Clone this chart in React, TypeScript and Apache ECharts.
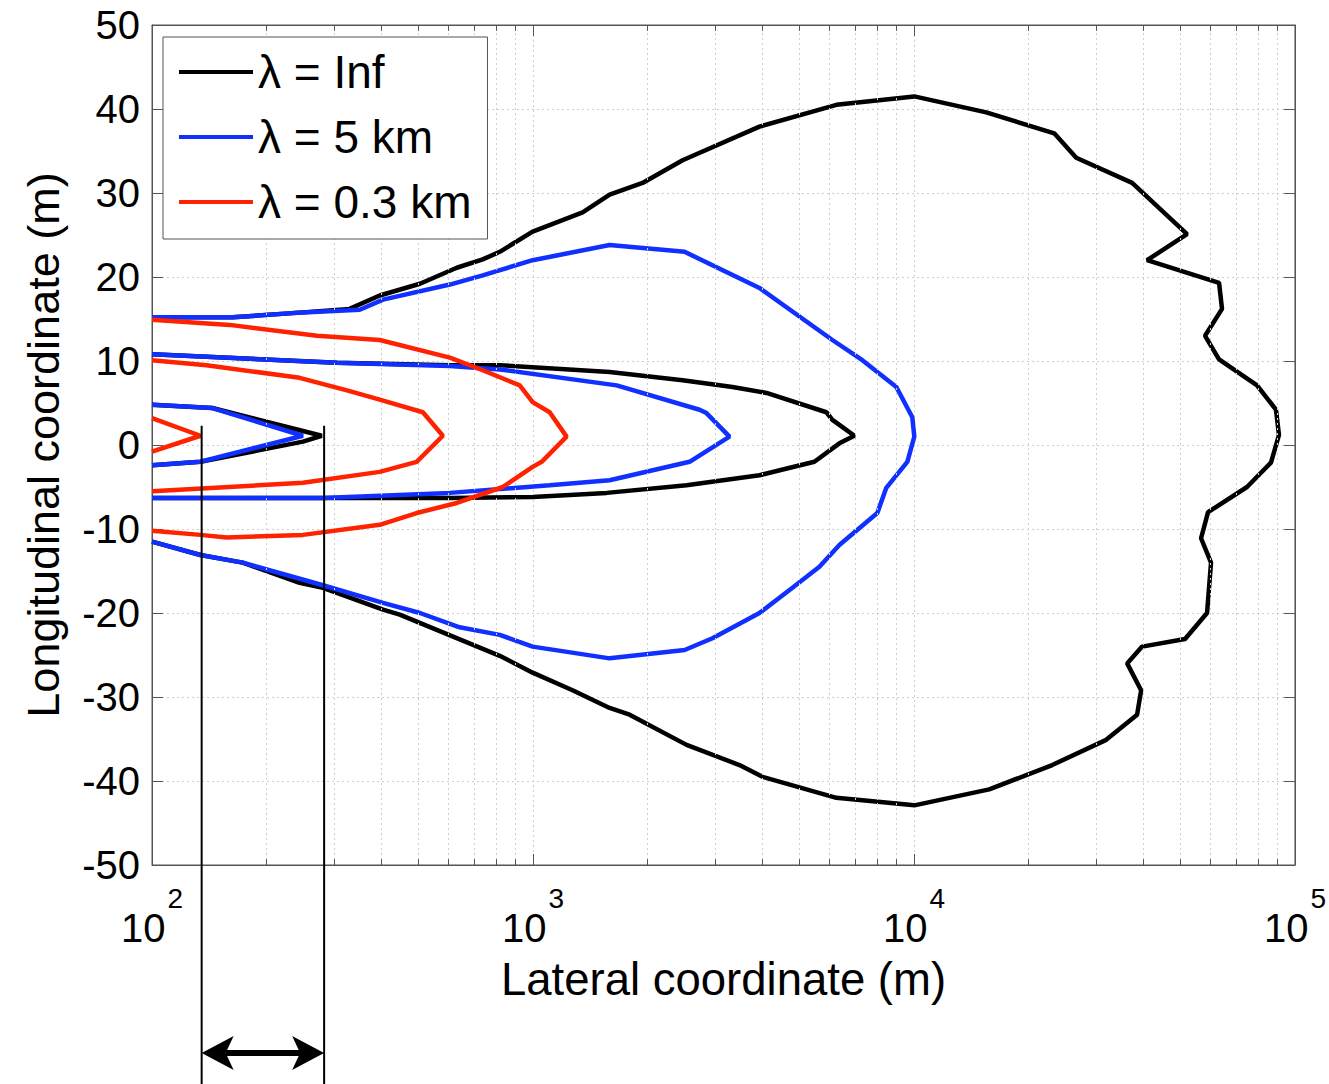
import React, { useEffect, useRef } from 'react';
import * as echarts from 'echarts';

const FONT = '"Liberation Sans", Arial, Helvetica, sans-serif';
const SERIES_NAMES = ['λ = Inf', 'λ = 5 km', 'λ = 0.3 km'];
const COLORS = ['#000000', '#1030ff', '#ff2200'];

// λ = Inf contours
const infOuter = [
  [100, 15.2], [163, 15.2], [234, 15.7], [330, 16.2], [396, 17.8], [505, 19.2], [631, 21.1], [738, 22.1],
  [818, 23.0], [998, 25.4], [1350, 27.7], [1589, 29.8], [1939, 31.2], [2470, 33.9], [3931, 37.9], [6256, 40.5],
  [10020, 41.5], [15480, 39.6], [23340, 37.1], [26660, 34.2], [37380, 31.2], [52090, 25.1], [40910, 22.0],
  [63200, 19.3], [64350, 16.2], [58080, 13.0], [63200, 10.2], [79520, 7.1], [89150, 4.2], [90790, 1.2],
  [86500, -2.1], [74840, -5.0], [59140, -8.0], [56690, -11.1], [60210, -14.0], [58780, -20.0], [51470, -23.1],
  [39700, -24.0], [36270, -26.0], [39460, -29.2], [38520, -32.1], [31950, -35.1], [23060, -38.1], [15760, -41.0],
  [10020, -42.9], [6256, -42.0], [4003, -39.5], [3483, -38.1], [2530, -35.7], [1793, -32.1], [1589, -31.3],
  [1270, -29.2], [998, -27.1], [818, -25.1], [447, -20.2], [404, -19.6], [281, -17.0], [244, -16.4],
  [173, -14.0], [134, -13.1], [100, -11.5],
];
const infMiddle = [
  [100, 10.8], [306, 9.8], [605, 9.5], [818, 9.5], [1589, 8.7], [2470, 7.7], [3339, 6.9], [4101, 6.2],
  [5890, 3.9], [6107, 3.0], [6371, 2.4], [6975, 1.1], [6371, 0.2], [5478, -2.0], [3931, -3.6], [2530, -4.8],
  [1561, -5.7], [998, -6.2], [605, -6.3], [100, -6.3],
];
const infInner = [[100, 4.8], [144, 4.4], [279, 1.1], [249, 0.4], [134, -2.0], [100, -2.4]];

// λ = 5 km contours
const km5Outer = [
  [100, 15.2], [163, 15.2], [234, 15.7], [351, 16.1], [404, 17.3], [605, 19.1], [738, 20.2], [998, 22.0],
  [1589, 23.8], [2500, 23.0], [3931, 18.7], [6107, 12.5], [7320, 10.1], [8989, 6.9], [9899, 3.3], [10020, 1.0],
  [9605, -2.0], [8459, -5.1], [8013, -8.1], [6371, -11.9], [5647, -14.5], [4798, -17.0], [3931, -20.0],
  [2959, -23.0], [2500, -24.4], [1589, -25.4], [998, -24.0], [818, -22.6], [642, -21.7], [505, -20.0],
  [404, -18.8], [281, -16.7], [173, -14.0], [134, -13.1], [100, -11.5],
];
const km5Middle = [
  [100, 10.8], [306, 9.8], [605, 9.4], [818, 9.0], [1658, 7.1], [2736, 4.2], [2853, 3.8], [3279, 1.0],
  [2576, -2.0], [1589, -4.2], [1106, -4.8], [605, -5.7], [281, -6.3], [100, -6.3],
];
const km5Inner = [[100, 4.8], [144, 4.4], [249, 1.1], [134, -2.0], [100, -2.4]];

// λ = 0.3 km contours
const km03Outer = [
  [100, 14.9], [160, 14.3], [271, 13.0], [396, 12.5], [605, 10.4], [738, 8.9], [923, 7.1], [998, 5.1],
  [1106, 3.9], [1225, 1.0], [1054, -2.0], [998, -2.6], [833, -5.0], [631, -6.9], [495, -8.1], [396, -9.5],
  [249, -10.7], [157, -11.0], [134, -10.7], [100, -10.2],
];
const km03Middle = [
  [100, 10.1], [139, 9.5], [244, 8.0], [325, 6.5], [396, 5.4], [514, 3.9], [580, 1.1], [495, -2.0],
  [396, -3.2], [249, -4.5], [100, -5.5],
];
const km03Inner = [[100, 3.2], [134, 1.1], [100, -0.8]];

const minorX = [
  200, 300, 400, 500, 600, 700, 800, 900,
  2000, 3000, 4000, 5000, 6000, 7000, 8000, 9000,
  20000, 30000, 40000, 50000, 60000, 70000, 80000, 90000,
];
const annotationX = [135, 283];
const annotationTopY = 2.3;

const AXIS_COLOR = '#555';
const GRID_COLOR = '#cfcfcf';

export default function App() {
  const ref = useRef<HTMLDivElement>(null);

  useEffect(() => {
    const chart = echarts.init(ref.current!, undefined, { renderer: 'svg' });

    const groups = [
      { name: SERIES_NAMES[0], color: COLORS[0], parts: [infOuter, infMiddle, infInner] },
      { name: SERIES_NAMES[1], color: COLORS[1], parts: [km5Outer, km5Middle, km5Inner] },
      { name: SERIES_NAMES[2], color: COLORS[2], parts: [km03Outer, km03Middle, km03Inner] },
    ];

    const contourSeries: any[] = [];
    groups.forEach((g, gi) => {
      g.parts.forEach((p) => {
        contourSeries.push({
          type: 'line',
          name: g.name,
          data: p,
          symbol: 'none',
          showSymbol: false,
          color: g.color,
          lineStyle: { color: g.color, width: 4.5 },
          z: 3 + gi,
          silent: true,
        });
      });
    });

    const tickLen = 0.7;
    const minorTickData: any[] = [];
    minorX.forEach((x) => {
      minorTickData.push([{ coord: [x, -50] }, { coord: [x, -50 + tickLen] }]);
      minorTickData.push([{ coord: [x, 50] }, { coord: [x, 50 - tickLen] }]);
    });

    const xLabelFmt = (v: number) => {
      const e = Math.round(Math.log10(v));
      return `{b|10}{s|${e}}`;
    };

    chart.setOption({
      animation: false,
      backgroundColor: '#fff',
      grid: {
        left: 152, top: 25, width: 1144, height: 840,
        show: true, borderColor: AXIS_COLOR, borderWidth: 1, backgroundColor: 'transparent',
      },
      legend: {
        data: SERIES_NAMES,
        orient: 'vertical',
        left: 163,
        top: 37,
        padding: [10, 16, 12, 16],
        itemGap: 15,
        itemWidth: 74,
        itemHeight: 4,
        icon: 'rect',
        borderColor: AXIS_COLOR,
        borderWidth: 1,
        backgroundColor: '#fff',
        textStyle: { fontSize: 46, fontFamily: FONT, color: '#000', lineHeight: 50 },
        selectedMode: false,
        z: 10,
      },
      xAxis: [
        {
          type: 'log', logBase: 10, min: 100, max: 100000, position: 'bottom',
          axisLine: { show: true, onZero: false, lineStyle: { color: AXIS_COLOR, width: 1 } },
          axisTick: { show: true, inside: true, length: 11, lineStyle: { color: AXIS_COLOR } },
          axisLabel: {
            formatter: xLabelFmt, margin: 19, color: '#000',
            rich: {
              b: { fontSize: 40, fontFamily: FONT, color: '#000', lineHeight: 88 },
              s: { fontSize: 28, fontFamily: FONT, color: '#000', verticalAlign: 'top', lineHeight: 28, padding: [0, 0, 0, 2] },
            },
          },
          splitLine: { show: true, lineStyle: { type: [2, 3], color: GRID_COLOR, width: 1 } },
          name: 'Lateral coordinate (m)',
          nameLocation: 'middle',
          nameGap: 91,
          nameTextStyle: { fontSize: 45.5, fontFamily: FONT, color: '#000' },
        },
        {
          type: 'log', logBase: 10, min: 100, max: 100000, position: 'top',
          axisLine: { show: true, onZero: false, lineStyle: { color: AXIS_COLOR, width: 1 } },
          axisTick: { show: true, inside: true, length: 11, lineStyle: { color: AXIS_COLOR } },
          axisLabel: { show: false },
          splitLine: { show: false },
        },
      ],
      yAxis: [
        {
          type: 'value', min: -50, max: 50, interval: 10, position: 'left',
          axisLine: { show: true, onZero: false, lineStyle: { color: AXIS_COLOR, width: 1 } },
          axisTick: { show: true, inside: true, length: 11, lineStyle: { color: AXIS_COLOR } },
          axisLabel: { fontSize: 40, fontFamily: FONT, color: '#000', margin: 12 },
          splitLine: { show: true, lineStyle: { type: [2, 3], color: GRID_COLOR, width: 1 } },
          name: 'Longitudinal coordinate (m)',
          nameLocation: 'middle',
          nameGap: 86,
          nameTextStyle: { fontSize: 45, fontFamily: FONT, color: '#000' },
        },
        {
          type: 'value', min: -50, max: 50, interval: 10, position: 'right',
          axisLine: { show: true, onZero: false, lineStyle: { color: AXIS_COLOR, width: 1 } },
          axisTick: { show: true, inside: true, length: 11, lineStyle: { color: AXIS_COLOR } },
          axisLabel: { show: false },
          splitLine: { show: false },
        },
      ],
      series: [
        {
          type: 'line', name: '__minorgrid', data: [], silent: true, z: 1,
          markLine: {
            silent: true, symbol: 'none', label: { show: false },
            lineStyle: { type: [2, 3], color: GRID_COLOR, width: 1 },
            data: minorX.map((x) => ({ xAxis: x })),
            animation: false,
          },
        },
        {
          type: 'line', name: '__minorticks', data: [], silent: true, z: 2,
          markLine: {
            silent: true, symbol: 'none', label: { show: false },
            lineStyle: { type: 'solid', color: AXIS_COLOR, width: 1 },
            data: minorTickData,
            animation: false,
          },
        },
        ...contourSeries,
      ],
    });

    const [lx, ty] = chart.convertToPixel({ gridIndex: 0 }, [annotationX[0], annotationTopY]) as number[];
    const [rx] = chart.convertToPixel({ gridIndex: 0 }, [annotationX[1], annotationTopY]) as number[];
    const bottom = 1084;
    const ay = 1053;
    const headL = 32;
    const headW = 17;
    const notch = 24;
    chart.setOption({
      graphic: [
        { type: 'line', shape: { x1: lx, y1: ty, x2: lx, y2: bottom }, style: { stroke: '#000', lineWidth: 2 }, z: 20 },
        { type: 'line', shape: { x1: rx, y1: ty, x2: rx, y2: bottom }, style: { stroke: '#000', lineWidth: 2 }, z: 20 },
        { type: 'line', shape: { x1: lx + notch, y1: ay, x2: rx - notch, y2: ay }, style: { stroke: '#000', lineWidth: 6 }, z: 20 },
        {
          type: 'polygon', z: 21,
          shape: { points: [[lx, ay], [lx + headL, ay - headW], [lx + notch, ay], [lx + headL, ay + headW]] },
          style: { fill: '#000' },
        },
        {
          type: 'polygon', z: 21,
          shape: { points: [[rx, ay], [rx - headL, ay - headW], [rx - notch, ay], [rx - headL, ay + headW]] },
          style: { fill: '#000' },
        },
      ],
    });

    return () => chart.dispose();
  }, []);

  return (
    <div
      ref={ref}
      style={{ position: 'fixed', left: 0, top: 0, width: 1329, height: 1084, background: '#fff' }}
    />
  );
}
